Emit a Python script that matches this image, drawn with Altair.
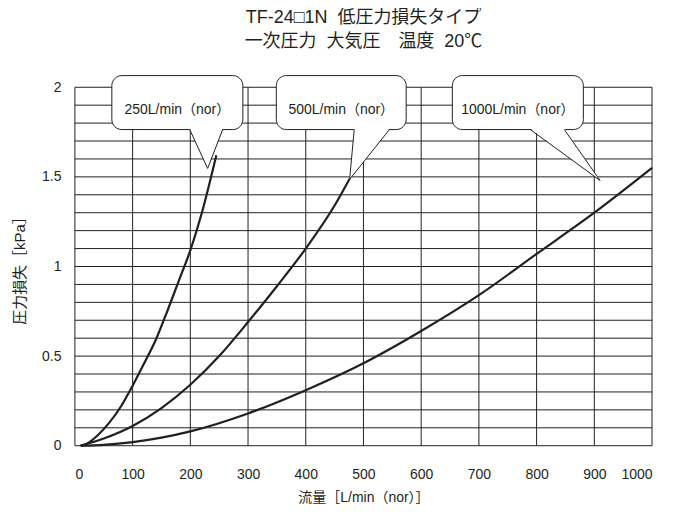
import altair as alt
import pandas as pd

# ---- data ----
flow_250 = [10, 20, 40, 60, 80, 100, 120, 140, 160, 180, 200, 220, 245]
loss_250 = [0, 0.01, 0.06, 0.13, 0.22, 0.335, 0.46, 0.59, 0.75, 0.92, 1.09, 1.30, 1.62]
flow_500 = [10, 50, 100, 150, 200, 250, 300, 350, 400, 450, 476]
loss_500 = [0, 0.04, 0.11, 0.21, 0.34, 0.50, 0.69, 0.89, 1.10, 1.34, 1.49]
flow_1000 = [10, 50, 100, 150, 200, 300, 400, 500, 600, 700, 800, 900, 1000]
loss_1000 = [0, 0.005, 0.02, 0.045, 0.08, 0.18, 0.31, 0.46, 0.64, 0.84, 1.07, 1.30, 1.55]

x_ticks = [0, 100, 200, 300, 400, 500, 600, 700, 800, 900, 1000]
y_grid = [0, 0.1, 0.2, 0.3, 0.4, 0.5, 0.6, 0.7, 0.8, 0.9, 1.0,
          1.1, 1.2, 1.3, 1.4, 1.5, 1.6, 1.7, 1.8, 1.9, 2.0]
y_labels = [0, 0.5, 1, 1.5, 2]

# callouts (data coordinates)
callout_text = ["250L/min（nor）", "500L/min（nor）", "1000L/min（nor）"]
box_x1 = [64, 349, 654]
box_x2 = [291, 574, 881]
box_y1 = 1.764
box_y2 = 2.065
text_y = 1.872
ptr_left = [199, 484, 789]
ptr_right = [256, 545, 848]
ptr_tip_x = [230, 476, 910]
ptr_tip_y = [1.547, 1.486, 1.48]

title_lines = ["TF-24□1N\u00a0\u00a0低圧力損失タイプ", "一次圧力\u00a0\u00a0大気圧\u3000温度\u00a0\u00a020℃"]

FONT = "Liberation Sans, Noto Sans CJK JP"
INK = "#231f20"

rows = []
for name, fx, ly in [("250", flow_250, loss_250), ("500", flow_500, loss_500), ("1000", flow_1000, loss_1000)]:
    for a, b in zip(fx, ly):
        rows.append({"series": name, "flow": a, "loss": b})
curves_df = pd.DataFrame(rows)

boxes_df = pd.DataFrame({
    "label": callout_text,
    "x1": box_x1, "x2": box_x2,
    "y1": [box_y1] * 3, "y2": [box_y2] * 3,
    "xc": [(a + b) / 2 for a, b in zip(box_x1, box_x2)],
    "yc": [text_y] * 3,
})

fill_rows = []
line_rows = []
for i in range(3):
    fill_rows.append({"id": i, "y": box_y1 + 0.006, "x": ptr_left[i], "x2": ptr_right[i]})
    fill_rows.append({"id": i, "y": ptr_tip_y[i], "x": ptr_tip_x[i], "x2": ptr_tip_x[i]})
    line_rows.append({"id": i, "o": 0, "x": ptr_left[i], "y": box_y1})
    line_rows.append({"id": i, "o": 1, "x": ptr_tip_x[i], "y": ptr_tip_y[i]})
    line_rows.append({"id": i, "o": 2, "x": ptr_right[i], "y": box_y1})
fill_df = pd.DataFrame(fill_rows)
pline_df = pd.DataFrame(line_rows)

xscale = alt.Scale(domain=[0, 1000], nice=False, zero=False)
yscale = alt.Scale(domain=[0, 2], nice=False, zero=False)

x_axis = alt.Axis(values=x_ticks, title="流量［L/min（nor）］", grid=False, ticks=False,
                  domain=False, labelPadding=22, titlePadding=9, format="d",
                  titleFontSize=14)
y_axis = alt.Axis(values=y_labels, title="圧力損失［kPa］", grid=False, ticks=False,
                  domain=False, labelPadding=14, titlePadding=14, format="~g",
                  titleFontSize=15)

hgrid = alt.Chart(pd.DataFrame({"v": y_grid})).mark_rule(color=INK, strokeWidth=1).encode(
    y=alt.Y("v:Q", scale=yscale, axis=y_axis),
)
vgrid = alt.Chart(pd.DataFrame({"v": x_ticks})).mark_rule(color=INK, strokeWidth=1).encode(
    x=alt.X("v:Q", scale=xscale, axis=x_axis),
)

curves = alt.Chart(curves_df).mark_line(color=INK, strokeWidth=2.2, interpolate="monotone").encode(
    x=alt.X("flow:Q", scale=xscale, axis=x_axis),
    y=alt.Y("loss:Q", scale=yscale, axis=y_axis),
    detail="series:N",
)

boxes = alt.Chart(boxes_df).mark_rect(fill="white", stroke=INK, strokeWidth=1, cornerRadius=10).encode(
    x=alt.X("x1:Q", scale=xscale, axis=x_axis), x2="x2:Q",
    y=alt.Y("y1:Q", scale=yscale, axis=y_axis), y2="y2:Q",
)

ptr_fill = alt.Chart(fill_df).mark_area(orient="horizontal", color="white", opacity=1).encode(
    y=alt.Y("y:Q", scale=yscale, axis=y_axis),
    x=alt.X("x:Q", scale=xscale, axis=x_axis), x2="x2:Q", detail="id:N",
)

ptr_lines = alt.Chart(pline_df).mark_line(color=INK, strokeWidth=1).encode(
    x=alt.X("x:Q", scale=xscale, axis=x_axis),
    y=alt.Y("y:Q", scale=yscale, axis=y_axis),
    order="o:Q", detail="id:N",
)

texts = alt.Chart(boxes_df).mark_text(font=FONT, fontSize=14, color=INK).encode(
    x=alt.X("xc:Q", scale=xscale, axis=x_axis),
    y=alt.Y("yc:Q", scale=yscale, axis=y_axis),
    text="label:N",
)

chart = alt.layer(hgrid, vgrid, curves, boxes, ptr_fill, ptr_lines, texts).properties(
    width=578, height=359,
    autosize=alt.AutoSizeParams(type="none"),
    padding={"left": 67, "top": 79, "right": 20, "bottom": 60},
    title=alt.TitleParams(title_lines,
                          fontSize=18, fontWeight="normal", anchor="middle", frame="group",
                          offset=24, font=FONT, color=INK, lineHeight=24),
).configure_view(stroke=None).configure_axis(
    labelFont=FONT, labelFontSize=14, labelColor=INK,
    titleFont=FONT, titleColor=INK, titleFontWeight="normal",
)

chart.save("out.html", embed_options={"renderer": "svg", "actions": False})
